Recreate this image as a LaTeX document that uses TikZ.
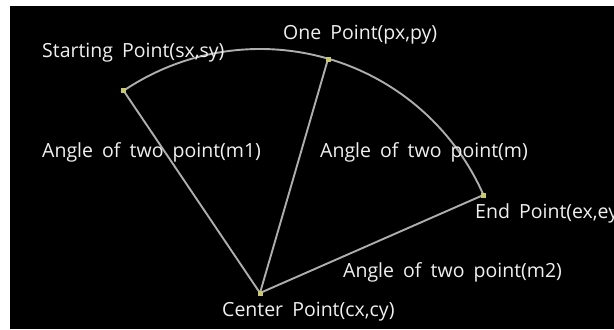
\documentclass[tikz,border=0pt]{standalone}
\usepackage{fontspec}
\setmainfont[WordSpace=1.8]{Open Sans}
\definecolor{linegray}{HTML}{AEAEAE}
\definecolor{dotyel}{HTML}{C8C870}
\definecolor{txt}{HTML}{F0F0F0}
\begin{document}
\begin{tikzpicture}[x=1bp,y=-1bp,
  lbl/.style={text=txt,inner sep=0pt,anchor=west,font=\fontsize{19.5bp}{22bp}\selectfont},
  spoke/.style={draw=linegray,line width=1.9bp},
  pt/.style={fill=dotyel,inner sep=0pt,minimum size=5bp,rectangle}]
\fill[white] (0,0) rectangle (614,329);
\fill[black] (10,6) rectangle (614,329);
\useasboundingbox (0,0) rectangle (614,329);
% points
\coordinate (c) at (260,293);
\coordinate (s) at (123.6,90.7);
\coordinate (p) at (328,59);
\coordinate (e) at (483.4,195);
% arc and spokes
\draw[spoke] (s) arc[start angle=-124, end angle=-23.7, radius=244];
\draw[spoke] (c) -- (s);
\draw[spoke] (c) -- (p);
\draw[spoke] (c) -- (e);
\node[pt] (cd) at (c) {};
\node[pt] (sd) at (s) {};
\node[pt] (pd) at (p) {};
\node[pt] (ed) at (e) {};
% labels
\node[lbl] (ls) at (42,53) {Starting Point(sx,sy)};
\node[lbl] (lp) at (283,35) {One Point(px,py)};
\node[lbl] (lm1) at (42,152) {Angle of two point(m1)};
\node[lbl] (lm) at (320,152) {Angle of two point(m)};
\node[lbl] (le) at (475,213) {End Point(ex,ey)};
\node[lbl] (lm2) at (343,272) {Angle of two point(m2)};
\node[lbl] (lc) at (222,312) {Center Point(cx,cy)};
\end{tikzpicture}
\end{document}
